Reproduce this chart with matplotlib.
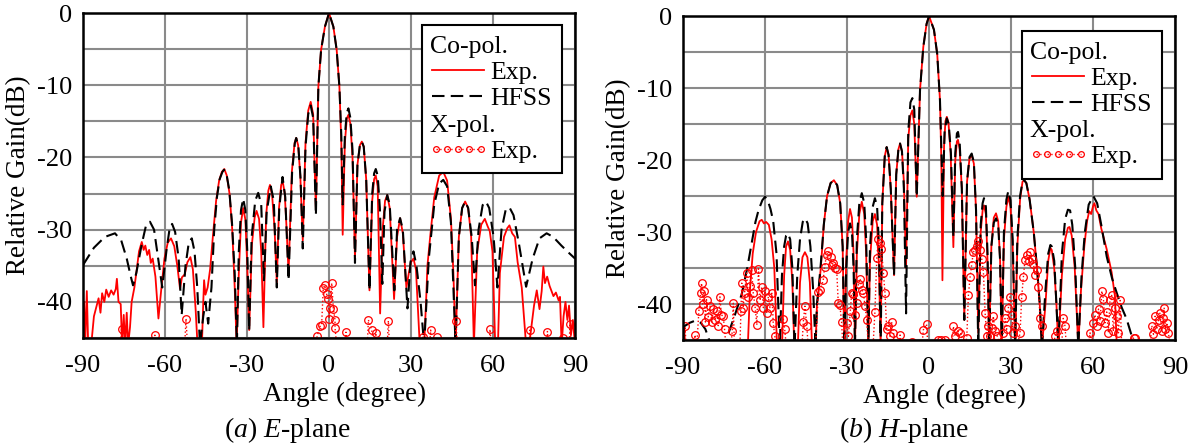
import numpy as np
import matplotlib.pyplot as plt
from matplotlib.lines import Line2D
from matplotlib.text import Text
from matplotlib.legend_handler import HandlerLine2D

plt.rcParams['font.family'] = ['Liberation Serif', 'DejaVu Serif']
plt.rcParams['mathtext.fontset'] = 'custom'
plt.rcParams['mathtext.rm'] = 'Liberation Serif'
plt.rcParams['mathtext.it'] = 'Liberation Serif:italic'
plt.rcParams['axes.unicode_minus'] = False

# (angle deg, relative gain dB); -46 = below the -45 floor
e_exp = [
    (-90, -46), (-89.6, -40), (-89.2, -46), (-88.6, -38.5), (-88.1, -46), (-87, -46), (-86, -42),
    (-85, -40.5), (-84.3, -39.5), (-83.6, -41.5), (-83, -38.8), (-82.2, -40), (-81.5, -38.3),
    (-80.6, -39.3), (-79.7, -38.4), (-78.8, -39), (-78, -38.2), (-77.6, -36.8), (-77, -40),
    (-76.2, -40.3), (-75.7, -46), (-75.1, -41.8), (-74.6, -46), (-74, -41.5), (-73.5, -46),
    (-72.8, -43.5), (-72.2, -40), (-71.2, -38), (-70.5, -36), (-69.5, -33), (-68.5, -31.7),
    (-67.8, -32.8), (-67.2, -32.2), (-66.5, -33.5), (-65.8, -32.8), (-65.2, -34.6), (-64.5, -34),
    (-63.5, -36.5), (-62.4, -42.3), (-61.3, -38), (-60.2, -34), (-59, -31.8), (-57.8, -31.2),
    (-56.6, -32.3), (-55.5, -35), (-54.5, -38.2), (-53.8, -36.6), (-52.8, -36.2), (-51.8, -34.5),
    (-50.7, -33.8), (-49.8, -35.5), (-48.8, -41), (-48.1, -46), (-46.5, -46), (-46, -40),
    (-45.7, -37), (-45.2, -39), (-44.4, -38), (-43.5, -35.5), (-42.5, -31), (-41.3, -26),
    (-40.2, -23.2), (-39.2, -22), (-38.3, -21.6), (-37.4, -22.5), (-36.4, -25), (-35.4, -30),
    (-34.5, -38), (-33.8, -46), (-33, -36), (-32.2, -29), (-31.4, -27), (-30.6, -28.6),
    (-29.9, -35), (-29.2, -43.9), (-28.2, -32), (-27.2, -28.3), (-26.5, -27.4), (-25.6, -28.5),
    (-24.8, -33), (-24, -43.5), (-23, -28), (-22.2, -24.6), (-21.6, -23.8), (-20.8, -25.3),
    (-19.9, -30), (-19.1, -37.4), (-18.3, -27), (-17.5, -23.8), (-16.9, -23.4), (-16.2, -25),
    (-15.5, -30), (-14.8, -36), (-13.6, -22), (-12.6, -18), (-12, -17.3), (-11.3, -18.3),
    (-10.5, -22.5), (-9.6, -31.5), (-8.6, -18), (-7.6, -13.5), (-6.7, -12.3), (-5.8, -14),
    (-4.8, -27.3), (-3.9, -10.2), (-2.9, -5.1), (-1.5, -1.9), (0, 0), (1.6, -1.9), (2.8, -5.1),
    (3.8, -10.2), (4.5, -18), (5, -30.7), (5.8, -18), (6.5, -14.6), (7.1, -14.1), (7.8, -15.3),
    (8.6, -20), (9.5, -34), (10.4, -21), (11.3, -18.3), (12, -17.8), (12.7, -18.5), (13.6, -23),
    (14.8, -38.4), (15.8, -26), (16.5, -23), (17.1, -22.5), (17.8, -24), (18.7, -41.6),
    (19.6, -30), (20.5, -26), (21.3, -25.2), (22.2, -27), (23.8, -39.6), (24.9, -31),
    (26, -28.4), (27, -30.5), (28.3, -38), (29.2, -36), (30, -34.5), (30.9, -34), (31.8, -35.5),
    (33.2, -46), (34.8, -46), (35.5, -40), (36, -35), (37, -31), (38.5, -25.5), (40.3, -22.5),
    (41.8, -22), (43.2, -23.2), (44.6, -28.5), (45.5, -36), (46.3, -46), (47.5, -31),
    (48.7, -27), (49.8, -26.1), (50.9, -27), (52, -31), (53, -46), (54.2, -33), (55.7, -29.3),
    (57, -28.5), (58, -29.5), (58.8, -30.2), (59.8, -33), (60.8, -46), (61.8, -46), (62.5, -36),
    (64, -31), (65.2, -29.8), (66, -29.4), (67, -30.5), (68, -31), (69, -34.5), (70.5, -38),
    (72.1, -46), (73.2, -46), (74, -43.5), (75, -40.5), (76, -38.4), (77, -41), (77.8, -38.5),
    (78.4, -35.1), (79, -37.4), (79.8, -36.5), (80.7, -37.8), (81.4, -38.5), (82.1, -39.2),
    (83, -38.7), (84, -39.8), (84.5, -39.3), (85.1, -46), (85.8, -42), (86.5, -40), (87.2, -42.5),
    (87.8, -40.5), (88.5, -44.6), (89.2, -42.5), (90, -46),
]

e_hfss = [
    (-90, -34.9), (-86, -32.5), (-82, -31), (-78.3, -30.5), (-76, -31.5), (-74, -34),
    (-72.5, -36.5), (-71.7, -37.7), (-70.5, -36), (-68.5, -32), (-67, -29.5), (-65.5, -28.9),
    (-64, -30), (-62.5, -34), (-61, -38), (-59.5, -33), (-58.3, -29.8), (-57.4, -29.2),
    (-56.3, -30.3), (-55, -34), (-53.9, -41.8), (-52.5, -35), (-51.3, -31.8), (-50.2, -31.2),
    (-49.2, -33), (-48.2, -38), (-47.2, -46), (-46, -42), (-45.2, -40), (-44.2, -43), (-43, -38),
    (-42, -30), (-41, -25.5), (-40, -23), (-39, -22), (-38.4, -21.7), (-37.5, -22.3),
    (-36.5, -24.5), (-35.5, -29), (-34.5, -36), (-33.7, -46), (-33, -33), (-32.2, -27.3),
    (-31.4, -25.7), (-30.6, -27.3), (-29.9, -33), (-29.2, -44), (-28.3, -31), (-27, -26),
    (-25.9, -24.9), (-24.8, -26.5), (-23.8, -37), (-22.8, -27.5), (-21.3, -24), (-20.2, -26),
    (-19.1, -38), (-18.2, -27), (-17, -22.7), (-16, -25.5), (-14.8, -37), (-13.5, -22),
    (-12.5, -18), (-12, -17.3), (-11.2, -18.5), (-10.4, -23), (-9.6, -32.6), (-8.6, -18.5),
    (-7.6, -14), (-6.7, -12.8), (-5.8, -14.5), (-4.8, -28), (-3.9, -10.2), (-2.9, -5.1),
    (-1.5, -1.9), (0, 0), (1.6, -1.9), (2.8, -5.1), (3.8, -10.2), (4.5, -17), (5, -26.5),
    (5.8, -17), (6.5, -13.8), (7.1, -13.2), (7.8, -14.5), (8.6, -19), (9.5, -34.6), (10.4, -21),
    (11.3, -18.3), (12, -17.8), (12.7, -18.5), (13.6, -23), (14.8, -38.4), (15.8, -25),
    (16.5, -22.2), (17.1, -21.6), (17.8, -22.5), (18.6, -27), (19.5, -37.5), (20.3, -27.5),
    (21.3, -25.2), (22.2, -26.5), (23.9, -38.4), (24.9, -30), (26, -28.4), (27, -30),
    (28.7, -40.9), (29.8, -34.5), (30.9, -33), (32, -35), (33.5, -40), (34.8, -46), (36.5, -34),
    (38.5, -26.5), (40.3, -23.6), (41.8, -23.1), (43.2, -24), (44.6, -29), (46.3, -46),
    (47.5, -31), (48.7, -27), (49.8, -26.1), (50.9, -27), (52.2, -31), (53.4, -37.7),
    (54.7, -30), (56.2, -26.6), (57.4, -26.1), (58.6, -27), (60.2, -31), (61.6, -38), (63.1, -30),
    (64.6, -27.3), (66, -26.9), (67.5, -28), (69.5, -32), (72.1, -37.9), (74.5, -34), (77, -31.2),
    (79.6, -30.5), (82, -31), (85, -32.2), (88, -33.3), (90, -34),
]

e_xpol = [
    (-90, -46), (-76.5, -46), (-75.9, -43.7), (-75.3, -46), (-64.2, -46), (-63.7, -44.6),
    (-63.2, -46), (-52.8, -46), (-52.3, -42.3), (-51.8, -46), (-5, -46), (-4.3, -44.7),
    (-3.3, -43.4), (-2.7, -43.2), (-2.1, -38.1), (-1.5, -37.7), (-0.9, -38.9), (-0.2, -39.6),
    (0, -42.3), (0.4, -40.8), (1, -37.4), (1.6, -41), (2.2, -42.5), (2.2, -43.6), (2.8, -46),
    (5.8, -46), (6.2, -44.2), (6.8, -46), (14, -46), (14.4, -42.5), (15.6, -43.9), (16.4, -46),
    (16.7, -46), (17.1, -44.3), (17.5, -46), (21.3, -46), (21.7, -42.6), (22.1, -46),
    (34, -46), (34.3, -44.9), (34.7, -46), (36.8, -46), (37.2, -43.9), (37.6, -46),
    (39.2, -46), (39.6, -44.9), (40, -46), (46.1, -46), (46.5, -42.6), (46.9, -46),
    (58.5, -46), (58.9, -43.8), (59.3, -46), (73.1, -46), (73.5, -43.9), (73.9, -46),
    (79.5, -46), (79.9, -44.1), (80.3, -46), (85.1, -46), (85.5, -45), (86, -46), (87.8, -46),
    (88.2, -43), (88.6, -46), (90, -46),
]

h_exp = [
    (-90, -46), (-89.6, -43), (-89.2, -46), (-66.3, -46), (-65.5, -38), (-64.5, -33),
    (-63.3, -30), (-62, -28.5), (-61.2, -28.3), (-60.4, -28.8), (-59.6, -28.6), (-58.6, -29),
    (-57.6, -31), (-56.6, -35), (-55.6, -46), (-53.8, -46), (-53, -36), (-52.3, -32),
    (-51.6, -31.3), (-50.8, -32.5), (-50, -37), (-49.3, -46), (-48, -46), (-47.2, -37),
    (-46.3, -33.5), (-45.4, -32.8), (-44.5, -33.5), (-43.6, -37), (-42.8, -46), (-41.5, -46),
    (-41, -40), (-40.3, -38), (-39.5, -34.5), (-38.5, -29), (-37.3, -25), (-36, -23.2),
    (-34.8, -22.8), (-33.6, -23.5), (-32.5, -26), (-31.6, -32), (-31, -46), (-30.3, -34),
    (-29.6, -28.5), (-28.9, -26.8), (-28.2, -28), (-27.6, -33), (-27.1, -46), (-26.4, -33),
    (-25.5, -27.5), (-24.6, -25.8), (-23.7, -27.5), (-23, -33), (-22.2, -46), (-21.6, -34),
    (-20.6, -28.5), (-19.8, -27.5), (-19, -29), (-18.3, -35), (-17.7, -46), (-17.1, -26),
    (-16.2, -19.5), (-15.5, -18.2), (-14.8, -19.3), (-14, -24), (-12.8, -36), (-12, -22),
    (-11.2, -18.5), (-10.6, -17.7), (-9.9, -18.8), (-9.2, -23), (-8.4, -35), (-7.6, -17),
    (-6.8, -13.8), (-6.1, -13.1), (-5.4, -15), (-4.5, -25.1), (-3.3, -10.3), (-2.1, -4.3),
    (-0.9, -1.1), (0, 0), (1.8, -1.9), (3, -5.3), (4, -11.7), (4.5, -20), (4.9, -36.7),
    (5.5, -18), (6, -14.6), (6.5, -14), (7.1, -14.8), (7.9, -19), (8.9, -32.1), (9.6, -20),
    (10.2, -17.4), (10.6, -17.2), (11.2, -18.5), (12, -24), (12.9, -42.2), (13.9, -23),
    (14.8, -19.8), (15.6, -19.3), (16.4, -20.5), (17.2, -27), (18, -44), (18.9, -30),
    (19.6, -27), (20.1, -26.3), (20.8, -27.5), (21.4, -34), (22, -46), (22.8, -32), (23.7, -28),
    (24.5, -27.4), (25.3, -28.5), (26, -34), (26.6, -46), (27.4, -31), (28.3, -26.5),
    (29, -25.1), (29.8, -26.5), (30.6, -32), (31.5, -46), (32.3, -32), (33.3, -25.5),
    (34.2, -23), (34.8, -22.8), (35.6, -23.2), (36.8, -25.5), (38.3, -30), (39.5, -35),
    (40.5, -40), (41.3, -46), (42.6, -40), (43.6, -34), (44.4, -32.2), (44.9, -32.5),
    (45.8, -35), (46.6, -40), (47.3, -46), (48.6, -36), (49.8, -31), (50.8, -29.4),
    (51.4, -29.3), (52.2, -30.5), (53.3, -35), (54.6, -46), (55.6, -38), (56.8, -32),
    (57.8, -28.5), (58.6, -27.1), (59.3, -27.5), (60, -26.4), (60.5, -26), (61.2, -27),
    (62, -27.5), (63, -29.5), (65, -32.4), (66.8, -35.6), (68, -38.9), (68.7, -46), (90, -46),
]

h_hfss = [
    (-90, -43.2), (-87.5, -42.6), (-85.5, -42.3), (-83.5, -42.6), (-81.8, -43.5), (-79.5, -46),
    (-74.5, -46), (-73.5, -44.2), (-71, -41.5), (-68.5, -38.6), (-66.5, -35), (-64.9, -31.6),
    (-63.5, -28.6), (-62.4, -27), (-61, -25.6), (-60, -25.1), (-59, -25.6), (-58, -26.8),
    (-57, -28.5), (-55.8, -33), (-54.6, -46), (-53.8, -36), (-53, -32), (-52.3, -30.5),
    (-51.6, -30.2), (-50.8, -31), (-50, -35), (-49.2, -46), (-48.2, -36), (-47.2, -31),
    (-46.2, -28.6), (-45.3, -28.1), (-44.4, -28.8), (-43.4, -32), (-42.4, -38), (-41.5, -46),
    (-41, -40), (-40.3, -37.5), (-39.5, -34), (-38.5, -29), (-37.3, -25), (-36, -23.2),
    (-34.8, -22.8), (-33.6, -23.5), (-32.5, -26), (-31.6, -32), (-31, -46), (-30.3, -35),
    (-29.6, -30), (-28.9, -28.8), (-28.2, -30), (-27.6, -35), (-27.1, -46), (-26.4, -31),
    (-25.5, -26), (-24.6, -24.6), (-23.7, -26), (-23, -31), (-22.2, -46), (-21.6, -32),
    (-20.6, -26.5), (-19.8, -25.3), (-19, -26.5), (-18.3, -32), (-17.7, -46), (-17.1, -26),
    (-16.2, -19.5), (-15.5, -18.2), (-14.8, -19.3), (-14, -24), (-12.8, -36), (-12, -22),
    (-11.2, -18.5), (-10.6, -17.7), (-9.9, -18.8), (-9.2, -24), (-8.4, -41.3), (-7.6, -16),
    (-6.8, -12), (-6.1, -11.4), (-5.4, -13), (-4.5, -25.1), (-3.3, -10.3), (-2.1, -4.3),
    (-0.9, -1.1), (0, 0), (1.8, -1.9), (3, -5.3), (4, -11.7), (5, -25), (5.7, -16),
    (6.5, -14.2), (7.2, -15), (8, -19), (8.9, -30.7), (9.6, -19), (10.2, -16.3), (10.6, -16.1),
    (11.2, -17.5), (12, -24), (12.9, -42.2), (13.9, -23), (14.8, -19.6), (15.6, -19.1),
    (16.4, -20.3), (17.2, -27), (18, -46), (18.9, -29), (19.6, -26), (20.1, -25.3),
    (20.8, -26.5), (21.4, -33), (22, -46), (22.8, -32), (23.7, -28.7), (24.5, -28.1),
    (25.3, -29), (26, -34), (26.6, -46), (27.4, -30), (28.3, -25.5), (29, -24.3), (29.8, -25.6),
    (30.6, -31), (31.5, -46), (32.3, -31), (33.3, -25), (34.2, -23), (34.8, -22.8),
    (35.6, -23.2), (36.8, -25.5), (38.3, -30), (39.5, -35), (40.5, -40), (41.3, -46),
    (42.6, -38), (43.6, -33), (44.4, -31.8), (44.9, -32), (45.8, -34), (46.6, -40), (47.3, -46),
    (48.6, -33), (49.8, -28.2), (50.8, -26.9), (51.6, -27), (52.4, -29), (53.5, -35),
    (54.6, -46), (55.8, -36), (57, -30), (58.4, -26.2), (60.1, -25), (61.5, -26), (63, -29),
    (65, -33.4), (67, -36.5), (68.7, -38.5), (70.5, -40.5), (72.3, -42.1), (75.4, -46),
]

h_xpol = [
    (-89.8, -46), (-89.3, -43.1), (-88.8, -46), (-86, -46), (-85.6, -44.3), (-85, -46),
    (-84.2, -41), (-83.6, -38.5), (-83.2, -37.1), (-82.8, -40), (-82.3, -38.2), (-81.8, -42.5),
    (-81.4, -39.4), (-80.8, -41.8), (-80.1, -40.3), (-79.5, -42.5), (-78.9, -40.7),
    (-78.3, -42.2), (-77.7, -41), (-77.1, -43), (-76.5, -39), (-76, -41.5), (-75.3, -41.7),
    (-74.8, -43.5), (-74.3, -46), (-72.5, -46), (-72, -43.8), (-71.6, -39.9), (-71.2, -46),
    (-69.2, -46), (-68.8, -41), (-68.5, -37.1), (-68, -40.5), (-67.5, -38.5), (-66.7, -35.7),
    (-66.2, -39), (-65.6, -37.5), (-64.9, -35.3), (-64.3, -38.5), (-63.6, -40.5), (-63, -42.9),
    (-62.4, -35.1), (-61.8, -39.5), (-61.2, -37.6), (-60.6, -40.5), (-60, -38.2), (-59.4, -41.3),
    (-58.8, -39), (-58.2, -40.5), (-57.5, -38.5), (-57, -42.6), (-56.4, -44.5), (-55.6, -46),
    (-53.8, -46), (-53.3, -42.1), (-52.8, -43.5), (-52.2, -46), (-46.5, -46), (-46, -42.5),
    (-45.4, -40.3), (-44.7, -43.1), (-44.2, -46), (-41.5, -46), (-40.5, -38.3), (-39.9, -38.1),
    (-38.7, -36.7), (-38.2, -34.8), (-37.5, -33.2), (-36.8, -32.7), (-36, -33.5), (-35.6, -34.6),
    (-35, -34.3), (-34.4, -35), (-33.8, -35.1), (-33.2, -39.9), (-32.6, -40.2), (-32, -42.5),
    (-31.5, -46), (-30.1, -42.7), (-29.5, -44.5), (-28.8, -41), (-28.3, -38.5), (-27.7, -38.6),
    (-27.1, -41.5), (-26.5, -39.9), (-25.8, -37.2), (-25.2, -36.5), (-24.6, -38), (-24, -38.5),
    (-23.4, -40.3), (-22.8, -42.2), (-22.2, -46), (-20.5, -46), (-19.8, -41.1), (-19.1, -33.6),
    (-18.6, -30.9), (-18, -31.5), (-17.4, -32.3), (-16.7, -35.7), (-16.1, -38.5), (-15.5, -43.4),
    (-14.9, -43), (-14.3, -44.5), (-13.7, -42.5), (-13, -44), (-12.2, -46), (-10.9, -46),
    (-10.6, -44.3), (-10.2, -46), (-6.7, -46), (-6.3, -45.3), (-5.9, -46), (-2.6, -46),
    (-2.1, -43.6), (-0.9, -42.8), (-0.4, -46), (3, -46), (3.4, -45), (4.3, -45), (5.9, -45),
    (6.3, -46), (8.5, -46), (8.9, -43.1), (9.5, -44.5), (10.7, -43.8), (11.5, -44), (13, -46),
    (13.8, -44.7), (14.4, -38.8), (15, -36.3), (15.6, -34.6), (16.2, -32.8), (16.8, -32.5),
    (17.4, -31.9), (18, -31.3), (18.6, -32.5), (19.3, -33.8), (19.9, -35.6), (20.5, -41.2),
    (21.1, -44.5), (21.7, -43), (22.3, -44.5), (23, -43.3), (23.5, -41.7), (24.2, -43.8),
    (25, -44.5), (26, -46), (27.2, -44), (27.8, -42), (28.4, -43.5), (29, -40.6), (29.6, -39),
    (30.2, -41.5), (30.8, -44), (31.5, -43), (32.2, -46), (33.3, -44), (33.9, -39),
    (34.5, -36.3), (35.1, -33.9), (35.7, -33.2), (36.4, -34), (37, -32.8), (37.6, -33.8),
    (38.2, -34.4), (38.8, -36), (39.4, -35.3), (40, -37.6), (40.6, -42), (41.2, -43),
    (41.8, -46), (45.5, -46), (46.1, -44.5), (46.7, -43.8), (47.3, -46), (48.5, -46),
    (49.1, -42), (49.7, -43), (50.3, -46), (58.3, -46), (58.9, -44), (59.5, -46), (60.1, -42.6),
    (60.7, -41.5), (61.4, -43), (62, -40.7), (62.6, -42.3), (63.2, -38.2), (63.8, -39.3),
    (64.4, -42.6), (65, -41.1), (65.6, -44), (66.2, -39.5), (66.8, -38.8), (67.4, -43.8),
    (68.1, -40.5), (68.7, -41.6), (69.3, -44), (69.9, -39.5), (70.5, -46), (74.5, -46),
    (74.8, -44.7), (75.2, -44.7), (75.6, -46), (80.8, -46), (81.5, -43), (82.1, -44.2),
    (82.7, -41.7), (83.3, -43.5), (84, -42.2), (84.5, -41.2), (85.1, -43.8), (85.7, -42),
    (86, -40.5), (86.5, -43.5), (87, -42.6), (87.6, -44), (88.2, -46),
]

x_ticks = [-90, -60, -30, 0, 30, 60, 90]
y_ticks = [0, -10, -20, -30, -40]
captions = [r'($\it{a}$) $\it{E}$-plane', r'($\it{b}$) $\it{H}$-plane']

fig = plt.figure(figsize=(12.01, 4.48), dpi=100)
ax_a = fig.add_axes([0.0691, 0.2455, 0.4097, 0.7254])
ax_b = fig.add_axes([0.5687, 0.2410, 0.4097, 0.7232])

LEG_FS = 18.5


class HeaderHandler:
    """Legend 'handle' that is just a text row header (Co-pol. / X-pol.)."""
    def __init__(self, text):
        self.text = text

    def legend_artist(self, legend, orig_handle, fontsize, handlebox):
        t = Text(-2, 0, self.text, fontsize=fontsize, ha='left', va='baseline')
        handlebox.add_artist(t)
        return t


def draw_panel(ax, exp, hfss, xpol, caption, cap_x, leg_top):
    ex, ey = np.array(exp).T
    hx, hy = np.array(hfss).T
    px, py = np.array(xpol).T
    l_exp, = ax.plot(ex, ey, color='#ff0000', lw=1.3, zorder=3, label='Exp.')
    l_hfss, = ax.plot(hx, hy, color='black', lw=1.5, dashes=(6, 3), zorder=4, label='HFSS')
    l_x, = ax.plot(px, py, color='#ff0000', lw=1.0, ls=':', marker='o', ms=5.5,
                   mfc='none', mec='#ff0000', mew=0.9, zorder=5, label='Exp.')

    ax.set_xlim(-90, 90)
    ax.set_ylim(-45, 0)
    ax.set_xticks(x_ticks)
    ax.set_xticklabels([str(v) for v in x_ticks])
    ax.set_yticks(y_ticks)
    ax.set_yticklabels([str(v) for v in y_ticks])
    ax.set_yticks(np.arange(-45, 0, 5), minor=True)
    ax.grid(True, which='both', color='#8a8a8a', lw=1.5)
    ax.set_axisbelow(True)
    ax.tick_params(which='both', length=0, labelsize=19)
    ax.tick_params(axis='x', pad=12)
    ax.tick_params(axis='y', pad=8)
    for s in ax.spines.values():
        s.set_linewidth(1.8)
        s.set_zorder(6)
    ax.set_ylabel('Relative Gain(dB)', fontsize=19.5, labelpad=4)
    ax.set_xlabel('Angle (degree)', fontsize=19.5)
    ax.xaxis.set_label_coords(0.531, -0.135)

    co_head = Line2D([], [], ls='none')
    x_head = Line2D([], [], ls='none')
    hmap = {
        co_head: HeaderHandler('Co-pol.'),
        x_head: HeaderHandler('X-pol.'),
        l_exp: HandlerLine2D(marker_pad=0, numpoints=2),
        l_hfss: HandlerLine2D(marker_pad=0, numpoints=2),
        l_x: HandlerLine2D(marker_pad=0.12, numpoints=5),
    }
    leg = ax.legend([co_head, l_exp, l_hfss, x_head, l_x],
                    [' ', 'Exp.', 'HFSS', ' ', 'Exp.'],
                    handler_map=hmap,
                    loc='upper right', bbox_to_anchor=(0.9736, leg_top),
                    borderaxespad=0, fontsize=LEG_FS, markerscale=0.75,
                    handlelength=2.0, handletextpad=0.25, labelspacing=0.12,
                    borderpad=0.4, fancybox=False, framealpha=1,
                    edgecolor='black')
    leg.get_frame().set_linewidth(1.5)
    leg.set_zorder(10)

    fig.text(cap_x, 0.04, caption, ha='center', va='center', fontsize=20)


draw_panel(ax_a, e_exp, e_hfss, e_xpol, captions[0], 287 / 1201, 0.963)
draw_panel(ax_b, h_exp, h_hfss, h_xpol, captions[1], 904 / 1201, 0.954)

fig.savefig('out.png', dpi=100)
